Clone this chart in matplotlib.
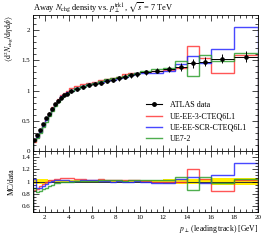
import matplotlib.pyplot as plt
from matplotlib.lines import Line2D
import numpy as np

plt.rcParams['font.family'] = ['Liberation Serif', 'DejaVu Serif']
plt.rcParams['mathtext.fontset'] = 'stix'

# bin edges in leading track pT [GeV]
edges = [1.0, 1.25, 1.5, 1.75, 2.0, 2.25, 2.5, 2.75, 3.0, 3.25, 3.5, 3.75, 4.0,
         4.5, 5.0, 5.5, 6.0, 6.5, 7.0, 7.5, 8.0, 8.5, 9.0, 9.5, 10.0,
         11.0, 12.0, 13.0, 14.0, 15.0, 16.0, 18.0, 20.0]

# ATLAS away-region charged density
data_y = [0.18, 0.26, 0.35, 0.45, 0.54, 0.62, 0.70, 0.77, 0.83, 0.88, 0.92, 0.95,
          0.99, 1.03, 1.06, 1.09, 1.11, 1.13, 1.16, 1.18, 1.20, 1.23, 1.25, 1.27,
          1.30, 1.33, 1.35, 1.39, 1.45, 1.48, 1.53, 1.56]
data_err = [0.006, 0.009, 0.012, 0.015, 0.018, 0.020, 0.022, 0.024, 0.025, 0.026, 0.027, 0.028,
            0.029, 0.030, 0.031, 0.032, 0.033, 0.034, 0.035, 0.035, 0.036, 0.037, 0.038, 0.039,
            0.040, 0.042, 0.050, 0.060, 0.070, 0.070, 0.080, 0.090]

# MC / data ratios
ratio_ee3 = [0.86, 0.87, 0.92, 0.96, 0.99, 1.02, 1.03, 1.04, 1.04, 1.05, 1.05, 1.05,
             1.05, 1.04, 1.04, 1.03, 1.03, 1.04, 1.03, 1.02, 1.02, 1.03, 1.03, 1.02,
             1.01, 1.00, 0.99, 0.99, 1.20, 1.04, 0.84, 1.02]
ratio_scr = [1.04, 0.90, 0.90, 0.93, 0.96, 0.99, 1.01, 1.02, 1.02, 1.03, 1.02, 1.02,
             1.01, 1.01, 1.02, 1.02, 1.02, 1.01, 1.01, 1.00, 1.01, 1.00, 1.00, 1.01,
             0.99, 0.97, 0.98, 1.04, 1.08, 0.98, 1.10, 1.31]
ratio_ue7 = [0.90, 0.83, 0.84, 0.87, 0.90, 0.93, 0.95, 0.97, 0.98, 0.99, 1.00, 1.00,
             1.00, 1.01, 1.01, 1.01, 1.01, 1.02, 1.02, 1.03, 1.02, 1.01, 1.02, 1.02,
             1.02, 1.02, 1.02, 1.07, 0.86, 1.07, 0.97, 1.04]

labels = ['UE-EE-3-CTEQ6L1', 'UE-EE-SCR-CTEQ6L1', 'UE7-2']
colors = ['#ff3838', '#2828ff', '#30a030']

edges = np.array(edges)
data_y = np.array(data_y)
data_err = np.array(data_err)
centers = 0.5 * (edges[1:] + edges[:-1])
halfw = 0.5 * np.diff(edges)
ratios = [np.array(ratio_ee3), np.array(ratio_scr), np.array(ratio_ue7)]

fig = plt.figure(figsize=(2.66, 2.40), dpi=100)
ax = fig.add_axes([33/266, 89/240, 225/266, 136/240])
rax = fig.add_axes([33/266, 28/240, 225/266, 61/240])

# main panel
handles = [Line2D([], [], color='black', lw=0.8, marker='o', ms=2.5)]
for r, c in zip(ratios, colors):
    ax.stairs(r * data_y, edges, color=c, lw=1.0, alpha=0.85)
    handles.append(Line2D([], [], color=c, lw=1.0, alpha=0.85))
ax.errorbar(centers, data_y, xerr=halfw, yerr=data_err, fmt='o', color='black',
            ms=2.3, lw=0.7, capsize=0)
ax.legend(handles, ['ATLAS data'] + labels, loc='upper left',
          bbox_to_anchor=(0.47, 0.42), frameon=False, fontsize=5.8,
          handlelength=2.0, handletextpad=1.0, labelspacing=0.4)
ax.set_xlim(1, 20)
ax.set_ylim(0, 2.25)
ax.set_title(r'Away $N_{\mathrm{chg}}$ density vs. $p_\perp^{\mathrm{trk1}}$, $\sqrt{s}$ = 7 TeV',
             loc='left', fontsize=6, pad=3)
ax.set_ylabel(r'$\langle\mathrm{d}^2 N_{\mathrm{chg}}/\mathrm{d}\eta\,\mathrm{d}\phi\rangle$',
              loc='top', fontsize=5.5, labelpad=4)
ax.set_yticks([0, 0.5, 1, 1.5, 2])
ax.set_yticklabels(['0', '0.5', '1', '1.5', '2'])
ax.set_yticks(np.arange(0, 2.26, 0.1), minor=True)
ax.set_xticks(np.arange(2, 21, 2))
ax.set_xticks(np.arange(1, 20.1, 0.5), minor=True)
ax.tick_params(labelbottom=False)

# ratio panel
rel = data_err / data_y
rax.stairs(1 + rel, edges, baseline=1 - rel, fill=True, color='#ffee00', lw=0)
rax.stairs(np.ones(len(data_y)), edges, color='#333333', lw=0.7)
for r, c in zip(ratios, colors):
    rax.stairs(r, edges, color=c, lw=1.0, alpha=0.85)
rax.set_xlim(1, 20)
rax.set_ylim(0.5, 1.5)
rax.set_yticks([0.6, 0.8, 1.0, 1.2, 1.4])
rax.set_yticklabels(['0.6', '0.8', '1', '1.2', '1.4'])
rax.set_yticks(np.arange(0.5, 1.51, 0.05), minor=True)
rax.set_xticks(np.arange(2, 21, 2))
rax.set_xticks(np.arange(1, 20.1, 0.5), minor=True)
rax.set_ylabel('MC/data', fontsize=5.5, labelpad=4)
rax.set_xlabel(r'$p_\perp$ (leading track) [GeV]', loc='right', fontsize=5.5, labelpad=2)

for a in (ax, rax):
    a.tick_params(which='both', direction='in', top=True, right=True, labelsize=5, width=0.5, pad=2)
    a.tick_params(which='major', length=4)
    a.tick_params(which='minor', length=2)
    for s in a.spines.values():
        s.set_linewidth(0.6)

fig.savefig('out.png', dpi=100)
